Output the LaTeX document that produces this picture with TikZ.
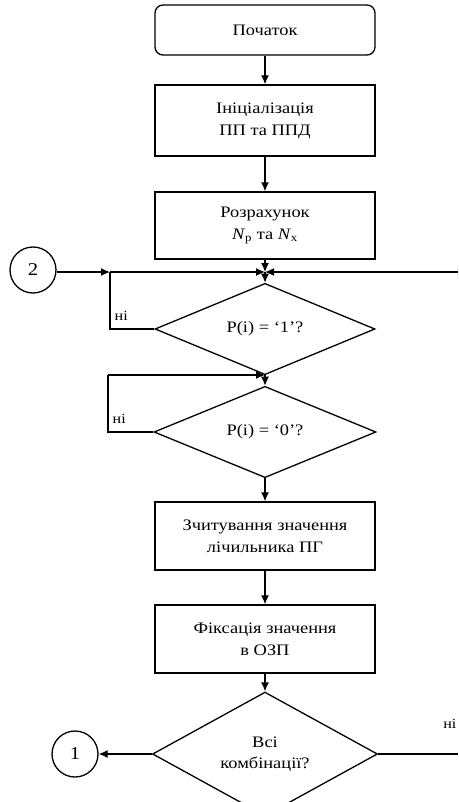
\documentclass[tikz,border=0pt]{standalone}
\usepackage{fontspec}
\setmainfont{Liberation Serif}[FakeStretch=1.15]
\usetikzlibrary{shapes.geometric,arrows.meta}
\tikzset{
  every picture/.style={line width=1.3pt},
  proc/.style={draw, minimum width=220pt, inner sep=2pt, align=center,
    font=\fontsize{16}{22}\selectfont},
  term/.style={proc, rounded corners=8pt},
  decision/.style={draw, diamond, inner sep=0pt, align=center,
    font=\fontsize{16}{21}\selectfont},
  conn/.style={draw, circle, minimum size=46pt, inner sep=0pt,
    font=\fontsize{18}{18}\selectfont},
  flow/.style={-{Latex[length=9pt,width=8pt]}},
  lbl/.style={font=\fontsize{14}{14}\selectfont, inner sep=1pt}
}
\begin{document}
\begin{tikzpicture}[x=1pt,y=-1pt]
\useasboundingbox (0,0) rectangle (458,802);

% main column
\node[term, minimum height=50pt] (start) at (265,30) {Початок};
\node[proc, minimum height=71pt] (init) at (265,120.5) {Ініціалізація\\ПП та ППД};
\node[proc, minimum height=67pt] (calc) at (265,225.5) {Розрахунок\\\textit{N}\textsubscript{р} та \textit{N}\textsubscript{х}};
\coordinate (j1) at (265,272);
\node[decision, minimum width=220pt, minimum height=72pt] (d1) at (265,329) {P(i) = ‘1’?};
\coordinate (j2) at (265,375);
\node[decision, minimum width=222pt, minimum height=70pt] (d2) at (265,432) {P(i) = ‘0’?};
\node[proc, minimum height=68pt] (read) at (265,536) {Зчитування значення\\лічильника ПГ};
\node[proc, minimum height=68pt] (fix) at (265,639) {Фіксація значення\\в ОЗП};
\node[decision, minimum width=225pt, minimum height=88pt] (d3) at (265,754) {Всі\\комбінації?};

% connectors
\node[conn] (c2) at (33,270) {2};
\node[conn] (c1) at (75,754) {1};
\coordinate (m1) at (110,272);
\coordinate (m2) at (108,375);
\coordinate (rin) at (458,272);
\coordinate (rout) at (458,754);

% flow lines
\draw[flow] (start) -- (init);
\draw[flow] (init) -- (calc);
\draw[flow] (calc) -- (j1);
\draw[flow] (j1) -- (d1.north);
\draw[flow] (d1.south) -- (d2.north);
\draw[flow] (d2.south) -- (read);
\draw[flow] (read) -- (fix);
\draw[flow] (fix) -- (d3.north);

% loop-backs and entries
\draw[flow] (c2.east |- m1) -- (m1);
\draw[flow] (m1) -- (j1);
\draw[flow] (rin) -- (j1);
\draw (d1.west) -| (m1);
\node[lbl, anchor=south west] at (113,322) {ні};
\draw (d2.west) -| (m2);
\draw[flow] (m2) -- (j2);
\node[lbl, anchor=south west] at (111,425) {ні};
\draw[flow] (d3.west) -- (c1);
\draw (d3.east) -- (rout);
\node[lbl, anchor=south east] at (458,730) {ні};
\end{tikzpicture}
\end{document}
